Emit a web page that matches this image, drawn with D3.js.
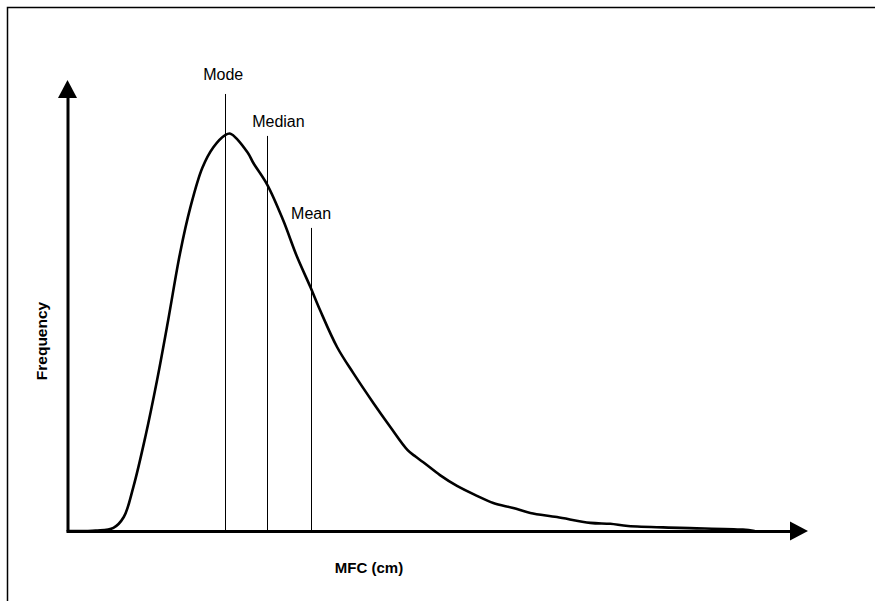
<!DOCTYPE html>
<html>
<head>
<meta charset="utf-8">
<script src="https://cdn.jsdelivr.net/npm/d3@7"></script>
<style>
  body { margin: 0; background: #fff; }
  text { font-family: "Liberation Sans", Arial, sans-serif; fill: #000; }
</style>
</head>
<body>
<script>
// MFC (arbitrary units, 0-100) vs frequency (relative, 0-100)
var mfc = [0, 3.8, 6.2, 7.6, 8.9, 10.5, 12.1, 13.6, 15.2, 16.6, 18.2, 19.7, 21.3, 22.0,
           24.3, 25.1, 27.0, 29.1, 31.0, 32.8, 34.1, 36.4, 38.6, 41.3, 43.5, 45.9, 47.0, 48.0,
           50.3, 52.6, 55.3, 57.5, 60.2, 62.5, 66.1, 70.6, 73.3, 75.7, 82.7, 91.2, 92.8];
var freq = [0, 0.1, 0.7, 3.1, 9.8, 20.8, 33.5, 46.8, 61.6, 71.8, 80.5, 85.1, 87.8, 88.1,
            84.0, 81.6, 76.7, 69.0, 60.8, 54.1, 49.0, 40.8, 35.0, 28.4, 23.3, 18.0, 16.5, 15.3,
            12.4, 10.0, 7.8, 6.2, 5.1, 4.0, 3.1, 1.8, 1.6, 1.1, 0.7, 0.3, 0];

// marker lines: name, position and height of the line
var statNames = ["Mode", "Median", "Mean"];
var statValues = [21.3, 27.0, 32.9];
var statTops = [96.9, 87.6, 67.2];

var xLabel = "MFC (cm)";
var yLabel = "Frequency";

var W = 875, H = 601;

var svg = d3.select("body")
            .append("svg")
            .attr("width", W)
            .attr("height", H);

// frame (cut off at the right and bottom)
svg.append("path")
   .attr("d", "M7.5," + H + "V7.5H" + W)
   .attr("fill", "none")
   .attr("stroke", "#000")
   .attr("stroke-width", 1.5);

var x = d3.scaleLinear()
          .domain([0, 100])
          .range([67.5, 808]);

var y = d3.scaleLinear()
          .domain([0, 100])
          .range([531, 80]);

// axes: no ticks, arrow heads at the ends
var arrowLen = 18, arrowHalf = 9.5;

var xAxis = d3.axisBottom(x.copy().range([x.range()[0] - 1.5, x.range()[1] - arrowLen + 2]))
              .tickValues([]).tickSizeOuter(0);
var yAxis = d3.axisLeft(y.copy().range([y.range()[0], y.range()[1] + arrowLen - 2]))
              .tickValues([]).tickSizeOuter(0);

svg.append("g")
   .attr("class", "x axis")
   .attr("transform", "translate(0," + y(0) + ")")
   .call(xAxis)
   .select(".domain")
   .attr("stroke-width", 3);

svg.append("g")
   .attr("class", "y axis")
   .attr("transform", "translate(" + x(0) + ",0)")
   .call(yAxis)
   .select(".domain")
   .attr("stroke-width", 3);

var xEnd = x.range()[1], yEnd = y.range()[1];
svg.append("path")
   .attr("d", "M" + xEnd + "," + y(0) +
              "L" + (xEnd - arrowLen) + "," + (y(0) - arrowHalf) +
              "L" + (xEnd - arrowLen) + "," + (y(0) + arrowHalf) + "Z")
   .attr("fill", "#000");
svg.append("path")
   .attr("d", "M" + x(0) + "," + yEnd +
              "L" + (x(0) - arrowHalf) + "," + (yEnd + arrowLen) +
              "L" + (x(0) + arrowHalf) + "," + (yEnd + arrowLen) + "Z")
   .attr("fill", "#000");

// mode / median / mean lines
var gap = [14, 9, 9];
statNames.forEach(function(name, i) {
    svg.append("line")
       .attr("x1", Math.round(x(statValues[i])) + 0.5)
       .attr("x2", Math.round(x(statValues[i])) + 0.5)
       .attr("y1", y(0))
       .attr("y2", y(statTops[i]))
       .attr("stroke", "#000")
       .attr("stroke-width", 1);
});

var labelDx = [-2, 11, 0];
svg.selectAll("text.stat")
   .data(statNames).enter()
   .append("text")
   .attr("class", "stat")
   .attr("x", function(d, i) { return x(statValues[i]) + labelDx[i]; })
   .attr("y", function(d, i) { return y(statTops[i]) - gap[i]; })
   .attr("text-anchor", "middle")
   .attr("font-size", 16)
   .text(function(d) { return d; });

// the distribution curve
var line = d3.line()
             .x(function(d, i) { return x(mfc[i]); })
             .y(function(d) { return y(d); })
             .curve(d3.curveCatmullRom.alpha(0.5));

svg.append("path")
   .datum(freq)
   .attr("d", line)
   .attr("fill", "none")
   .attr("stroke", "#000")
   .attr("stroke-width", 2.6)
   .attr("stroke-linejoin", "round");

// axis titles
svg.append("text")
   .attr("x", 369)
   .attr("y", 573)
   .attr("text-anchor", "middle")
   .attr("font-size", 15)
   .attr("font-weight", "bold")
   .text(xLabel);

svg.append("text")
   .attr("transform", "translate(47,341) rotate(-90)")
   .attr("text-anchor", "middle")
   .attr("font-size", 15.5)
   .attr("font-weight", "bold")
   .text(yLabel);
</script>
</body>
</html>
